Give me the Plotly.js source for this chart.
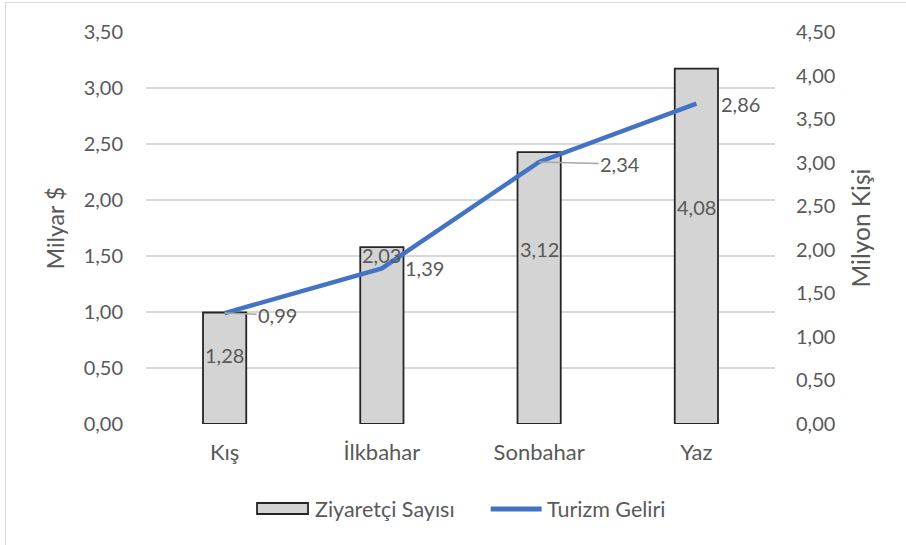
<!DOCTYPE html>
<html>
<head>
<meta charset="utf-8">
<script src="https://cdn.plot.ly/plotly-3.0.1.min.js"></script>
<style>
  html, body { margin: 0; padding: 0; background: #ffffff; }
  #wrap { position: relative; width: 906px; height: 545px; overflow: hidden; }
  #chart { position: absolute; left: 0; top: 0; width: 906px; height: 545px; }
  #frame { position: absolute; left: 5px; top: 2px; width: 960px; height: 600px;
           border-left: 1.5px solid #d9d9d9; border-top: 1.5px solid #d9d9d9; pointer-events: none; }
</style>
</head>
<body>
<div id="wrap"><div id="chart"></div><div id="frame"></div></div>
<script>
// ---- data ----
const categories = ["Kış", "İlkbahar", "Sonbahar", "Yaz"];
const visitors = [1.28, 2.03, 3.12, 4.08];      // Ziyaretçi Sayısı (Milyon Kişi) - right axis
const revenue = [0.99, 1.39, 2.34, 2.86];       // Turizm Geliri (Milyar $) - left axis
const leftTicks = [0, 0.5, 1, 1.5, 2, 2.5, 3, 3.5];
const rightTicks = [0, 0.5, 1, 1.5, 2, 2.5, 3, 3.5, 4, 4.5];
const seriesNames = ["Ziyaretçi Sayısı", "Turizm Geliri"];

// ---- style / placement ----
const FONT = "Lato, 'Open Sans', sans-serif";
const TXT = "#595959";
const BAR_FILL = "#d4d4d4", BAR_EDGE = "#262626", LINE_COLOR = "#4472C4";
const fmt = v => v.toFixed(2).replace(".", ",");
const barLabelFrac = [0.62, 0.955, 0.645, 0.61];
const lineLabelShift = [53, 43, 81, 44];
const lineLabelLeader = [true, false, true, false];

const barTrace = {
  type: "bar", name: seriesNames[0],
  x: categories, y: visitors, yaxis: "y",
  width: 0.275,
  marker: { color: BAR_FILL, line: { color: BAR_EDGE, width: 1.8 } },
  hoverinfo: "x+y"
};
const lineTrace = {
  type: "scatter", mode: "lines", name: seriesNames[1],
  x: categories, y: revenue, yaxis: "y2",
  line: { color: LINE_COLOR, width: 4.5 },
  hoverinfo: "x+y"
};

const annotations = [];
categories.forEach((c, i) => {
  annotations.push({
    x: c, y: visitors[i] * barLabelFrac[i], xref: "x", yref: "y",
    text: fmt(visitors[i]), showarrow: false,
    font: { family: FONT, size: 20, color: TXT }
  });
  if (lineLabelLeader[i]) {
    annotations.push({
      x: c, y: revenue[i], xref: "x", yref: "y2",
      text: fmt(revenue[i]), showarrow: true, arrowhead: 0, arrowwidth: 1.5,
      arrowcolor: "#a6a6a6", ax: lineLabelShift[i], ay: 2,
      font: { family: FONT, size: 20, color: TXT }
    });
  } else {
    annotations.push({
      x: c, y: revenue[i], xref: "x", yref: "y2",
      text: fmt(revenue[i]), showarrow: false, xshift: lineLabelShift[i], yshift: 0,
      font: { family: FONT, size: 20, color: TXT }
    });
  }
});

// legend (drawn below the plot, Excel-style wide symbols)
const LEG_Y = -0.2168;
annotations.push({
  x: 0.2655, y: LEG_Y, xref: "paper", yref: "paper", xanchor: "left", yanchor: "middle",
  text: seriesNames[0], showarrow: false, font: { family: FONT, size: 21.5, color: TXT }
});
annotations.push({
  x: 0.6345, y: LEG_Y, xref: "paper", yref: "paper", xanchor: "left", yanchor: "middle",
  text: seriesNames[1], showarrow: false, font: { family: FONT, size: 21.5, color: TXT }
});
const shapes = [
  { type: "rect", xref: "paper", yref: "paper", x0: 0.1765, x1: 0.2576, y0: -0.2296, y1: -0.2015,
    fillcolor: BAR_FILL, line: { color: BAR_EDGE, width: 1.8 } },
  { type: "line", xref: "paper", yref: "paper", x0: 0.5480, x1: 0.6290, y0: LEG_Y, y1: LEG_Y,
    line: { color: LINE_COLOR, width: 5 } }
];

const layout = {
  width: 906, height: 545,
  margin: { l: 146, r: 131, t: 32, b: 121 },
  paper_bgcolor: "#ffffff", plot_bgcolor: "#ffffff",
  separators: ",.",
  font: { family: FONT, size: 20, color: TXT },
  showlegend: false,
  xaxis: {
    type: "category", showgrid: false, zeroline: false, showline: false, ticks: "",
    tickfont: { family: FONT, size: 22, color: TXT }, ticklabelstandoff: 13
  },
  yaxis: {
    side: "right", range: [0, 4.5], tickvals: rightTicks, ticktext: rightTicks.map(fmt),
    showgrid: false, zeroline: false, showline: false, ticks: "",
    tickfont: { family: FONT, size: 20, color: TXT }, ticklabelstandoff: 20,
    title: { text: "Milyon Kişi", font: { family: FONT, size: 24.5, color: TXT }, standoff: 18 }
  },
  yaxis2: {
    side: "left", overlaying: "y", range: [0, 3.5], tickvals: leftTicks, ticktext: leftTicks.map(fmt),
    showgrid: true, gridcolor: "#d9d9d9", gridwidth: 1.5, zeroline: false, showline: false, ticks: "",
    tickfont: { family: FONT, size: 20, color: TXT }, ticklabelstandoff: 22,
    title: { text: "Milyar $", font: { family: FONT, size: 23, color: TXT }, standoff: 12 }
  },
  annotations: annotations,
  shapes: shapes
};

Plotly.newPlot("chart", [barTrace, lineTrace], layout, { displayModeBar: false, staticPlot: true });
</script>
</body>
</html>
